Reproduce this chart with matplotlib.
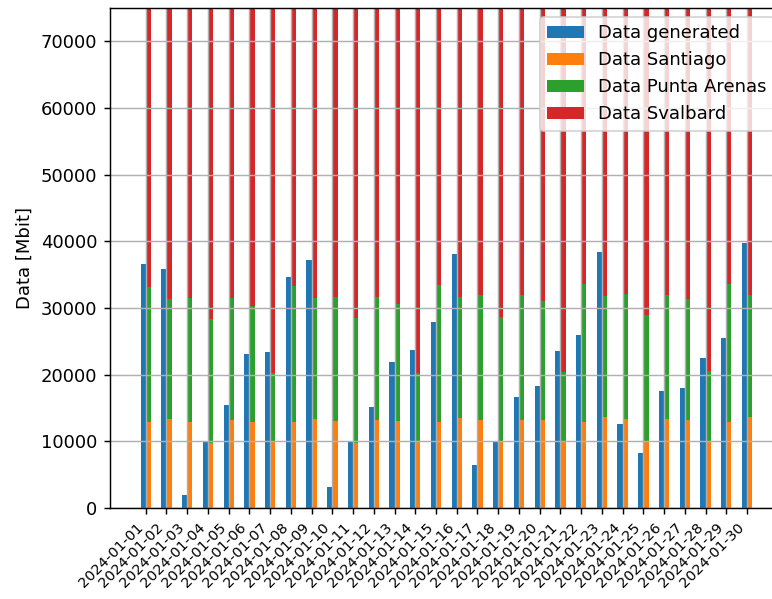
import numpy as np
import matplotlib.pyplot as plt

dates = [f"2024-01-{d:02d}" for d in range(1, 31)]

data_generated = [36600, 35850, 1900, 9950, 15450, 23150, 23400, 34600, 37250, 3150,
                  9950, 15150, 21850, 23700, 27850, 38050, 6400, 9850, 16650, 18350,
                  23550, 25900, 38350, 12600, 8250, 17600, 18050, 22500, 25550, 39750]
data_santiago = [12950, 13350, 12950, 9700, 13250, 12950, 10050, 12950, 13350, 13050,
                 9700, 13250, 13050, 10050, 12950, 13550, 13250, 9850, 13250, 13250,
                 10050, 12950, 13650, 13350, 9950, 13350, 13250, 10050, 12950, 13650]
data_punta_arenas = [20250, 18000, 18500, 18650, 18200, 17400, 10150, 20400, 18200, 18600,
                     18750, 18400, 17600, 10200, 20500, 18100, 18700, 18800, 18650, 17800,
                     10400, 20700, 18200, 18800, 19000, 18650, 18100, 10500, 20700, 18300]
data_svalbard = [241800, 243100, 242500, 245700, 242600, 243700, 253800, 240700, 242500, 242400,
                 245600, 242400, 243400, 253900, 240600, 242400, 242100, 245400, 242100, 243000,
                 253600, 240400, 242200, 241900, 245100, 242000, 242700, 253500, 240400, 242100]

x = np.arange(len(dates))
width = 0.25
santiago = np.array(data_santiago)
punta = np.array(data_punta_arenas)

fig = plt.figure(figsize=(772 / 130, 599 / 130), dpi=130)
ax = fig.add_axes([110 / 772, 1 - 508 / 599, 0.8715, 500 / 599])

ax.bar(x - width / 2, data_generated, width, label="Data generated")
ax.bar(x + width / 2, santiago, width, label="Data Santiago")
ax.bar(x + width / 2, punta, width, bottom=santiago, label="Data Punta Arenas")
ax.bar(x + width / 2, data_svalbard, width, bottom=santiago + punta, label="Data Svalbard")

ax.set_ylim(0, 75000)
ax.set_xticks(x)
ax.set_xticklabels(dates, rotation=45, ha="right", fontsize=8)
ax.set_ylabel("Data [Mbit]")
ax.grid(True)
ax.legend(loc="upper right")

fig.savefig("out.png", dpi=130)
